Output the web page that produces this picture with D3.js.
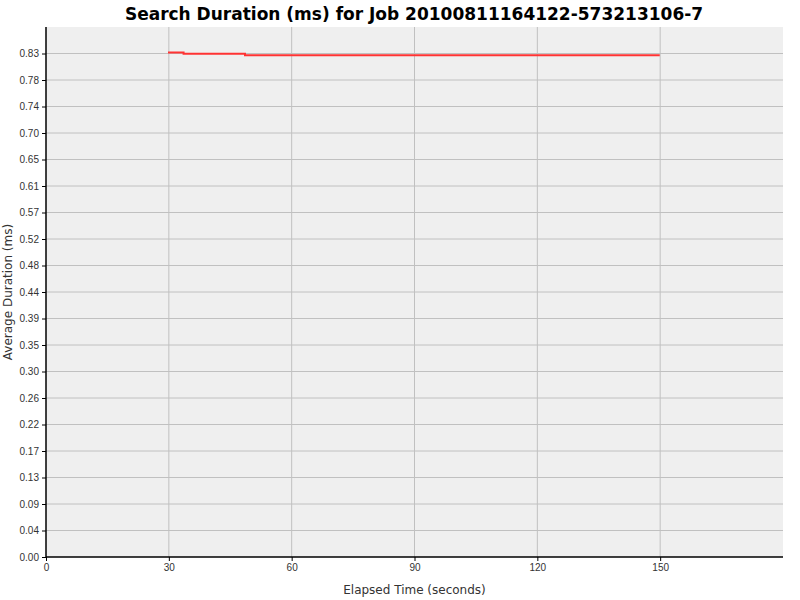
<!DOCTYPE html>
<html>
<head>
<meta charset="utf-8">
<script src="https://cdn.jsdelivr.net/npm/d3@7"></script>
<style>
  body { margin: 0; background: #fff; }
  svg { display: block; }
</style>
</head>
<body>
<div id="chart"></div>
<script>
// data
const elapsed = [29.8, 33.6, 48.6, 149.9];
const avgDuration = [0.8287, 0.8268, 0.8243, 0.8243];
const xTicks = [0, 30, 60, 90, 120, 150];
const yStep = 0.04353;
const yTickCount = 20;

const chartTitle = "Search Duration (ms) for Job 20100811164122-573213106-7";
const xLabel = "Elapsed Time (seconds)";
const yLabel = "Average Duration (ms)";

const W = 800, H = 600;
const margin = {top: 27, right: 17, bottom: 43, left: 46};
const width = W - margin.left - margin.right,
    height = H - margin.top - margin.bottom;

const svg = d3.select("#chart")
    .append("svg")
    .attr("width", W)
    .attr("height", H)
    .style("font-family", "'DejaVu Sans', sans-serif");

svg.append("text")
    .attr("x", 414)
    .attr("y", 20)
    .attr("text-anchor", "middle")
    .style("font-size", "17px")
    .style("font-weight", "bold")
    .text(chartTitle);

const g = svg.append("g")
    .attr("transform", "translate(" + margin.left + "," + margin.top + ")");

const x = d3.scaleLinear().domain([0, 180]).range([0, width]);
const y = d3.scaleLinear().domain([0, yStep * yTickCount]).range([height, 0]);
const yTicks = d3.range(yTickCount).map(i => i * yStep);

g.append("rect")
    .attr("width", width)
    .attr("height", height)
    .attr("fill", "#efefef");

// gridlines
g.append("g")
    .selectAll("line")
    .data(xTicks.slice(1))
    .enter()
    .append("line")
    .attr("x1", d => x(d)).attr("x2", d => x(d))
    .attr("y1", 0).attr("y2", height)
    .attr("stroke", "#c0c0c0");
g.append("g")
    .selectAll("line")
    .data(yTicks.slice(1))
    .enter()
    .append("line")
    .attr("x1", 0).attr("x2", width)
    .attr("y1", d => y(d)).attr("y2", d => y(d))
    .attr("stroke", "#c0c0c0");

// axes
const xAxis = g.append("g")
    .attr("transform", "translate(0," + height + ")")
    .call(d3.axisBottom(x).tickValues(xTicks).tickSize(4).tickSizeOuter(0));
const yAxis = g.append("g")
    .call(d3.axisLeft(y).tickValues(yTicks).tickFormat(d3.format(".2f")).tickSize(4).tickSizeOuter(0));
[xAxis, yAxis].forEach(a => {
    a.select(".domain").attr("stroke", "#000").attr("stroke-width", 1.5);
    a.selectAll("text").style("font-size", "10px").attr("fill", "#333");
});
xAxis.select(".domain").attr("d", "M0,0H" + width);
yAxis.select(".domain").attr("d", "M0," + height + "V0");

// the series
const line = d3.line()
    .x((d, i) => x(elapsed[i]))
    .y(d => y(d))
    .curve(d3.curveStepAfter);
g.append("path")
    .datum(avgDuration)
    .attr("d", line)
    .attr("fill", "none")
    .attr("stroke", "#ff3333")
    .attr("stroke-width", 2);

svg.append("text")
    .attr("x", margin.left + width / 2)
    .attr("y", 594)
    .attr("text-anchor", "middle")
    .style("font-size", "12px")
    .attr("fill", "#333")
    .text(xLabel);

svg.append("text")
    .attr("transform", "translate(12," + (margin.top + height / 2) + ") rotate(-90)")
    .attr("text-anchor", "middle")
    .style("font-size", "12px")
    .attr("fill", "#333")
    .text(yLabel);
</script>
</body>
</html>
